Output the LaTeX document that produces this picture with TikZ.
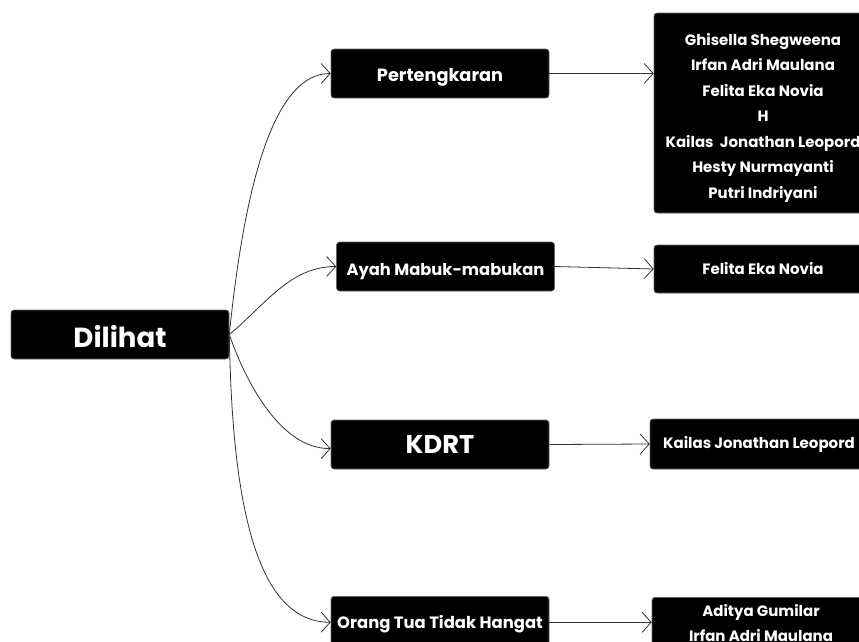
\documentclass[tikz,border=0pt]{standalone}
\usepackage{fontspec}
\setmainfont{Poppins}
\usetikzlibrary{arrows.meta}
\begin{document}
\begin{tikzpicture}[x=1pt,y=-1pt,
 box/.style={fill=black,draw=black!60,line width=0.6pt,rounded corners=3pt,text=white,minimum width=218pt,inner sep=0pt,align=center},
 small/.style={font=\bfseries\fontsize{15}{25.5}\selectfont},
 link/.style={draw=black!80,line width=0.8pt,-{Straight Barb[length=9pt,width=20pt,line width=0.8pt]}}]
\useasboundingbox (0,0) rectangle (859,641);
\node[box,minimum height=49pt,font=\bfseries\fontsize{27.6}{32}\selectfont] (dil) at (120,334.5) {\rule{0pt}{26pt}Dilihat};
\node[box,minimum height=49pt,font=\bfseries\fontsize{17.7}{20}\selectfont] (per) at (440,73.5) {\rule{0pt}{20pt}Pertengkaran};
\node[box,minimum height=49pt,font=\bfseries\fontsize{16.3}{20}\selectfont] (ayah) at (445.5,266.5) {\rule{0pt}{22pt}Ayah Mabuk-mabukan};
\node[box,minimum height=49pt,font=\bfseries\fontsize{25.7}{32}\selectfont] (kdrt) at (440,444.5) {KDRT};
\node[box,minimum height=52pt,anchor=north,font=\bfseries\fontsize{16.4}{20}\selectfont] (orang) at (440,596) {\rule{0pt}{17pt}Orang Tua Tidak Hangat};
\node[box,small,minimum height=200pt] (perl) at (763,113) {\rule{0pt}{21pt}Ghisella Shegweena\\Irfan Adri Maulana\\Felita Eka Novia\\H\\Kailas\ \ Jonathan Leopord\\Hesty Nurmayanti\\Putri Indriyani};
\node[box,small,minimum height=48pt] (fel) at (763,269) {Felita Eka Novia};
\node[box,small,minimum height=50pt] (kai) at (759,444) {Kailas Jonathan Leopord};
\node[box,small,anchor=north,inner ysep=7pt] (adi) at (761,597) {Aditya Gumilar\\Irfan Adri Maulana\\[10pt]};
\draw[link] (dil.east) .. controls (245,180) and (275,73.5) .. (per.west);
\draw[link] (dil.east) .. controls (265,305) and (290,266.5) .. (ayah.west);
\draw[link] (dil.east) .. controls (245,380) and (280,449) .. ([yshift=-4pt]kdrt.west);
\draw[link] (dil.east) .. controls (232,500) and (255,622) .. (orang.west);
\draw[link] (per.east) -- (per.east -| perl.west);
\draw[link] (ayah.east) -- (fel.west);
\draw[link] (kdrt.east) -- (kai.west);
\draw[link] (orang.east) -- (orang.east -| adi.west);
\end{tikzpicture}
\end{document}
